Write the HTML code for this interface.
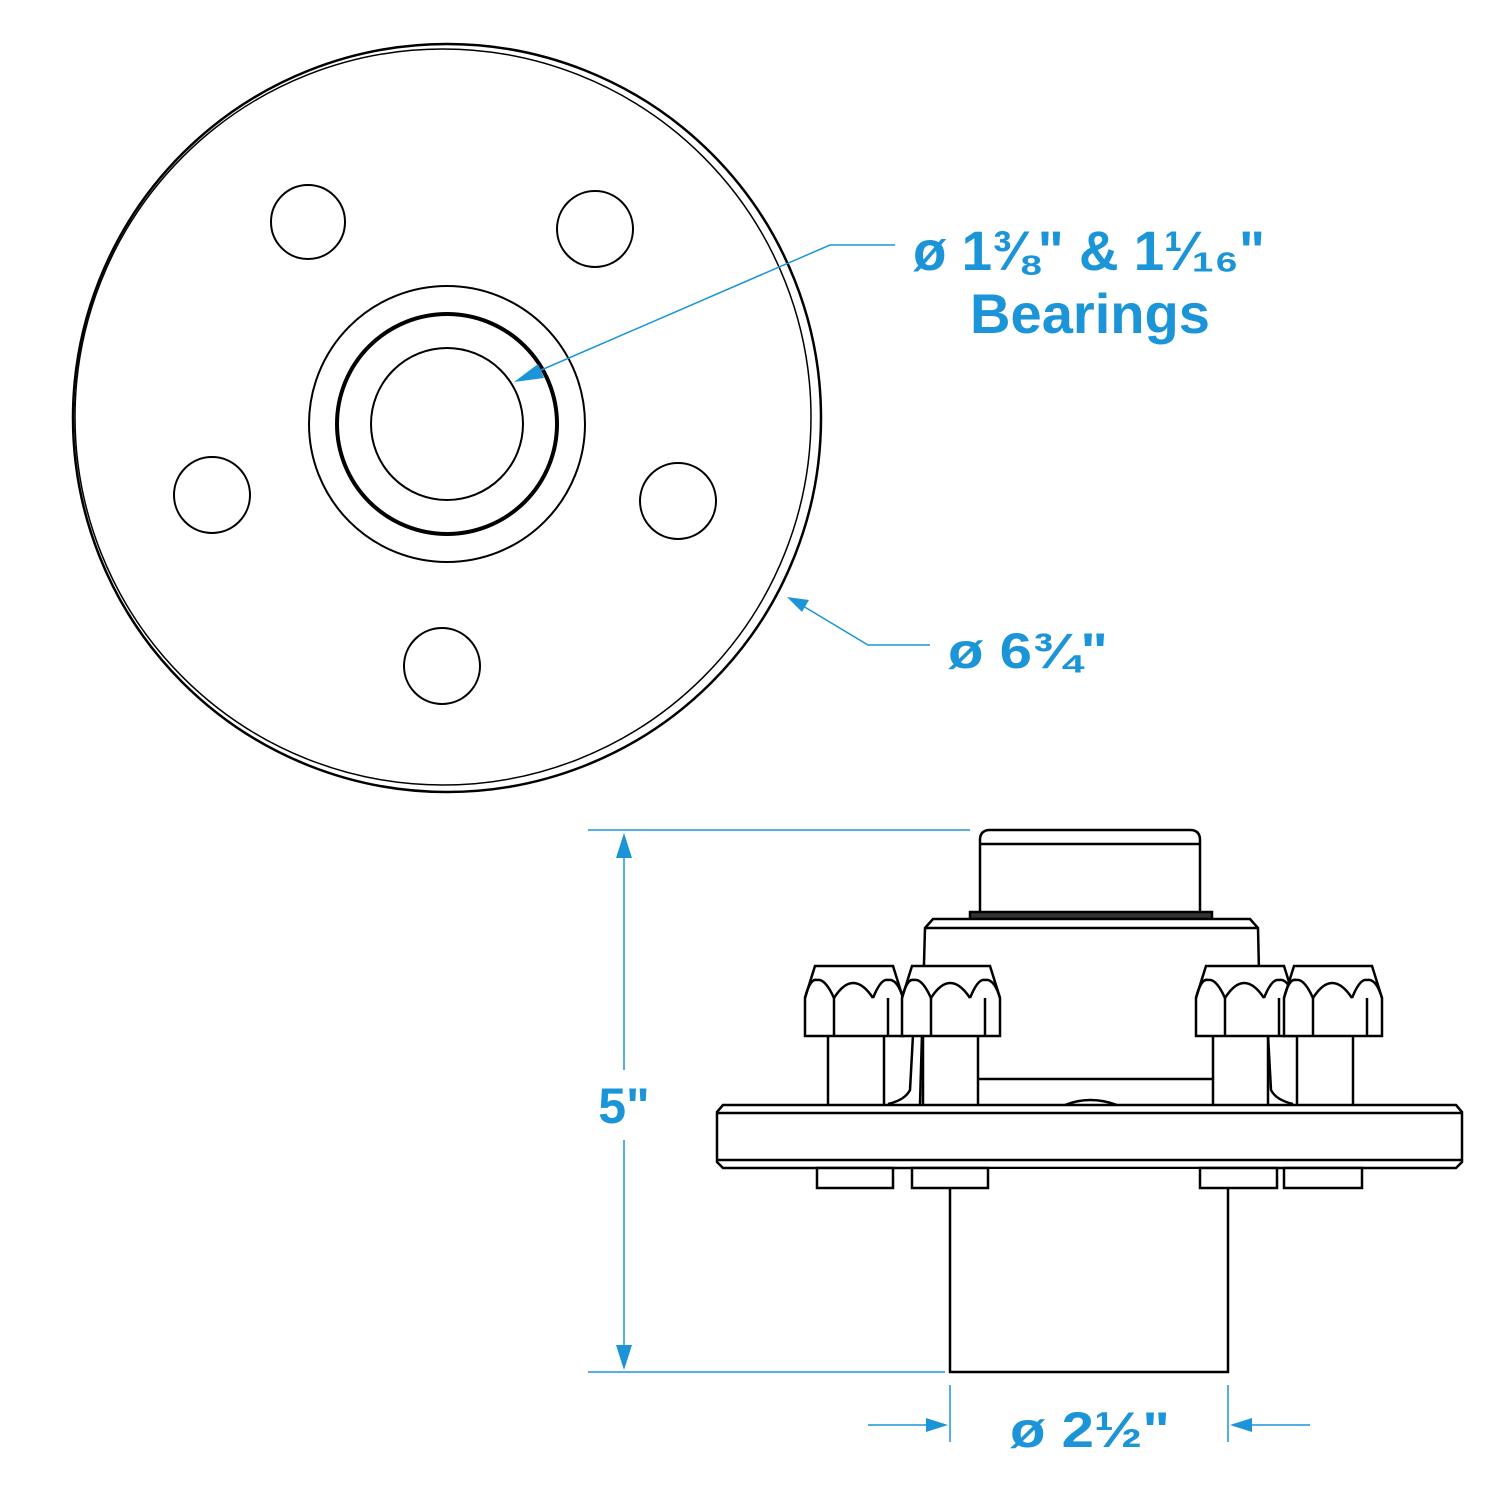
<!DOCTYPE html>
<html><head><style>html,body{margin:0;padding:0;background:#fff}svg{display:block}</style></head>
<body>
<svg width="1500" height="1500" viewBox="0 0 1500 1500" xmlns="http://www.w3.org/2000/svg">
<defs>
<g id="nut">
  <path d="M0,70 L0,32 L10,0 L88,0 L98,32 L98,70 Z" fill="#fff" stroke="#000" stroke-width="2.5"/>
  <path d="M0,32 Q5,12 12,14 Q20,12 29,32 M29,32 Q48,2 68,32 M68,32 Q76,12 83,14 Q92,12 98,32" fill="none" stroke="#000" stroke-width="2.5"/>
  <line x1="29" y1="32" x2="29" y2="70" stroke="#000" stroke-width="2.5"/>
  <line x1="83" y1="32" x2="83" y2="70" stroke="#000" stroke-width="2.5"/>
</g>
</defs>
<g fill="none" stroke="#000">
  <circle cx="447" cy="418" r="374" stroke-width="2.5"/>
  <circle cx="443" cy="417" r="368" stroke-width="1.5"/>
  <circle cx="308" cy="222" r="37" stroke-width="2"/>
  <circle cx="595" cy="229" r="38" stroke-width="2"/>
  <circle cx="212" cy="495" r="38" stroke-width="2"/>
  <circle cx="678" cy="501" r="38" stroke-width="2"/>
  <circle cx="442" cy="666" r="38" stroke-width="2"/>
  <circle cx="447" cy="424" r="138" stroke-width="2"/>
  <circle cx="447" cy="424" r="110" stroke-width="4"/>
  <circle cx="447" cy="424" r="76" stroke-width="2"/>
</g>
<g fill="#fff" stroke="#000" stroke-width="2.5">
  <path d="M980,912 L980,840 Q980,830 990,830 L1190,830 Q1200,830 1200,840 L1200,912"/>
  <line x1="980" y1="844" x2="1200" y2="844"/>
  <rect x="970" y="912" width="242" height="7" fill="#333"/>
  <path d="M920,1104 L925,928 L933,919 L1250,919 L1258,928 L1262,1104" />
  <line x1="925" y1="928" x2="1258" y2="928"/>
  <rect x="828" y="1035" width="56" height="72"/>
  <rect x="923" y="1035" width="55" height="72"/>
  <rect x="1213" y="1035" width="55" height="72"/>
  <rect x="1297" y="1035" width="56" height="72"/>
  <line x1="978" y1="1079" x2="1213" y2="1079"/>
  <path d="M913,1035 L910,1090 Q905,1100 888,1104" fill="none"/>
  <path d="M1268,1035 L1271,1090 Q1276,1100 1293,1104" fill="none"/>
  <path d="M1065,1105 Q1090,1095 1117,1105" fill="none"/>
  <use href="#nut" x="805" y="966"/>
  <use href="#nut" x="902" y="966"/>
  <use href="#nut" x="1196" y="966"/>
  <use href="#nut" x="1284" y="966"/>
  <path d="M723,1105 L1456,1105 L1462,1112 L1462,1162 L1456,1168 L723,1168 L717,1162 L717,1112 Z"/>
  <line x1="717" y1="1113" x2="1462" y2="1113"/>
  <line x1="717" y1="1160" x2="1462" y2="1160"/>
  <path d="M950,1169 L950,1372 L1228,1372 L1228,1169" />
  <rect x="817" y="1168" width="76" height="20"/>
  <rect x="912" y="1168" width="76" height="20"/>
  <rect x="1200" y="1168" width="77" height="20"/>
  <rect x="1284" y="1168" width="78" height="20"/>
</g>
<g stroke="#1b95d8" stroke-width="1.5" fill="none">
  <line x1="588" y1="830" x2="970" y2="830"/>
  <line x1="588" y1="1372" x2="945" y2="1372"/>
  <line x1="624" y1="852" x2="624" y2="1070"/>
  <line x1="624" y1="1140" x2="624" y2="1352"/>
  <line x1="950" y1="1385" x2="950" y2="1442"/>
  <line x1="1228" y1="1385" x2="1228" y2="1442"/>
  <line x1="868" y1="1425" x2="930" y2="1425"/>
  <line x1="1248" y1="1425" x2="1310" y2="1425"/>
  <polyline points="532,374 830,245 895,245"/>
  <polyline points="803,606 868,645 930,645"/>
</g>
<g fill="#1b95d8">
  <polygon points="624,833 616,858 632,858"/>
  <polygon points="624,1370 616,1345 632,1345"/>
  <polygon points="948,1425 926,1418 926,1432"/>
  <polygon points="1230,1425 1252,1418 1252,1432"/>
  <polygon points="514,382 538,364 544,378"/>
  <polygon points="787,597 809,600 802,612"/>
</g>
<g fill="#1b95d8" font-family="'Liberation Sans', sans-serif" font-weight="bold">
  <text x="913" y="270" font-size="56" textLength="352" lengthAdjust="spacingAndGlyphs">ø 1⅜" &amp; 1¹⁄₁₆"</text>
  <text x="970" y="333" font-size="56" textLength="240" lengthAdjust="spacingAndGlyphs">Bearings</text>
  <text x="948" y="668" font-size="50" textLength="160" lengthAdjust="spacingAndGlyphs">ø 6¾"</text>
  <text x="624" y="1123" font-size="50" text-anchor="middle">5"</text>
  <text x="1010" y="1447" font-size="50" textLength="160" lengthAdjust="spacingAndGlyphs">ø 2½"</text>
</g>
</svg>
</body></html>
